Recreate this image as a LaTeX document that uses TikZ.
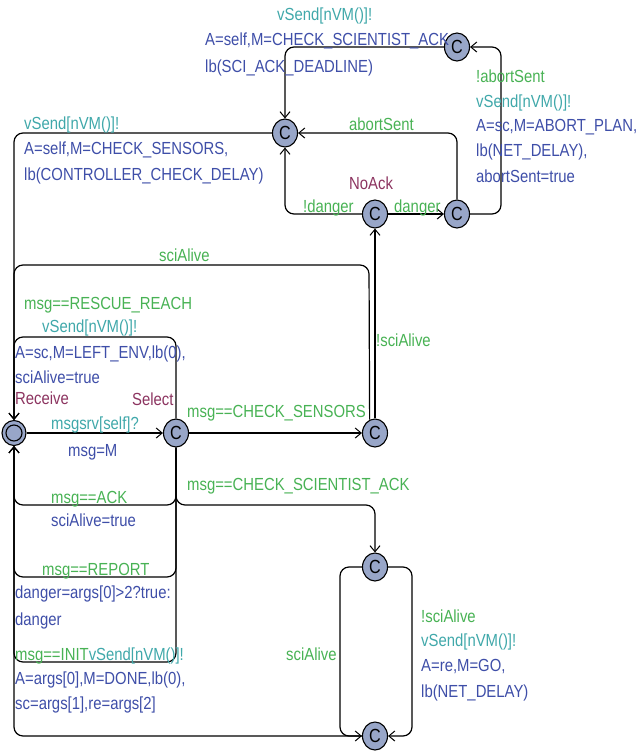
\documentclass[tikz,border=0pt]{standalone}
\usepackage{fontspec}
\newfontfamily\lbfont{Liberation Sans}[FakeStretch=0.85]
\usetikzlibrary{arrows.meta,shapes.geometric}
\definecolor{gG}{RGB}{72,178,84}
\definecolor{gT}{RGB}{64,168,170}
\definecolor{gB}{RGB}{62,78,168}
\definecolor{gP}{RGB}{140,52,96}
\definecolor{nf}{RGB}{152,166,200}
\begin{document}
\begin{tikzpicture}[x=1pt,y=-1pt,
 loc/.style={ellipse,draw,line width=1.1pt,fill=nf,minimum width=25pt,minimum height=28pt,inner sep=0pt,font=\lbfont\fontsize{19}{19}\selectfont},
 edge/.style={line width=1.2pt,rounded corners=9pt,-{Straight Barb[length=6pt,width=10pt,line width=1pt]}},
 lbl/.style={anchor=base west,inner sep=0pt,font=\lbfont\fontsize{17.5}{20}\selectfont}]
\useasboundingbox (0,0) rectangle (637,753);
% locations
\node[loc,minimum width=24pt,minimum height=25pt] (rec) at (14,433) {};
\draw[line width=1.1pt] (rec.center) circle (8pt);
\node[loc] (sel) at (176,433) {C};
\node[loc] (cs) at (375,433) {C};
\node[loc] (noack) at (375,214) {C};
\node[loc] (dng) at (457,214) {C};
\node[loc] (abt) at (457,47) {C};
\node[loc] (hub) at (285,133) {C};
\node[loc] (sci) at (375,567) {C};
\node[loc] (bot) at (375,736) {C};
% edges
\draw[edge] (rec) -- (sel);
\draw[edge] (sel) -- (cs);
\draw[edge] (sel) -- (176,505) -- (375,505) -- (sci);
\draw[edge] (sel) -- (176,505) -- (14,505) -- (rec);
\draw[edge] (sel) -- (176,577) -- (14,577) -- (rec);
\draw[edge] (sel) -- (176,662) -- (14,662) -- (rec);
\draw[edge] (sel) -- (176,337) -- (14,337) -- (rec);
\draw[edge] (cs) -- (noack);
\draw[edge] (cs.112) -- (369,265) -- (14,265) -- (rec);
\draw[edge] (noack) -- (285,214) -- (hub);
\draw[edge] (noack) -- (dng);
\draw[edge] (dng) -- (457,133) -- (hub);
\draw[edge] (dng) -- (501,214) -- (501,47) -- (abt);
\draw[edge] (abt) -- (285,47) -- (hub);
\draw[edge] (hub) -- (14,133) -- (rec);
\draw[edge] (sci) -- (340,567) -- (340,736) -- (bot);
\draw[edge] (sci) -- (412,567) -- (412,736) -- (bot);
\draw[edge] (bot) -- (14,736) -- (rec);
% labels
\node[lbl,text=gT] (l1) at (277,20) {vSend[nVM()]!};
\node[lbl,text=gB] (l2) at (205,45) {A=self,M=CHECK\_SCIENTIST\_ACK};
\node[lbl,text=gB] (l3) at (205,72) {lb(SCI\_ACK\_DEADLINE)};
\node[lbl,text=gG] (l4) at (476,82) {!abortSent};
\node[lbl,text=gT] (l5) at (476,107) {vSend[nVM()]!};
\node[lbl,text=gB] (l6) at (476,131) {A=sc,M=ABORT\_PLAN,};
\node[lbl,text=gB] (l7) at (476,156) {lb(NET\_DELAY),};
\node[lbl,text=gB] (l8) at (476,182) {abortSent=true};
\node[lbl,text=gG] (l9) at (349,130) {abortSent};
\node[lbl,text=gP] (l10) at (349,189) {NoAck};
\node[lbl,text=gG] (l11) at (303,212) {!danger};
\node[lbl,text=gG] (l12) at (394,212) {danger};
\node[lbl,text=gT] (l13) at (24,129) {vSend[nVM()]!};
\node[lbl,text=gB] (l14) at (24,154) {A=self,M=CHECK\_SENSORS,};
\node[lbl,text=gB] (l15) at (24,180) {lb(CONTROLLER\_CHECK\_DELAY)};
\node[lbl,text=gG] (l16) at (159,261) {sciAlive};
\node[lbl,text=gG] (l17) at (24,309) {msg==RESCUE\_REACH};
\node[lbl,text=gT] (l18) at (42,332) {vSend[nVM()]!};
\node[lbl,text=gB] (l19) at (15,358) {A=sc,M=LEFT\_ENV,lb(0),};
\node[lbl,text=gB] (l20) at (15,383) {sciAlive=true};
\node[lbl,text=gP] (l21) at (15,404) {Receive};
\node[lbl,text=gP] (l22) at (132,405) {Select};
\node[lbl,text=gT] (l23) at (51,429) {msgsrv[self]?};
\node[lbl,text=gB] (l24) at (68,456) {msg=M};
\node[lbl,text=gG] (l25) at (187,417) {msg==CHECK\_SENSORS};
\node[lbl,text=gG] (l26) at (376,346) {!sciAlive};
\node[lbl,text=gG] (l27) at (187,490) {msg==CHECK\_SCIENTIST\_ACK};
\node[lbl,text=gG] (l28) at (51,503) {msg==ACK};
\node[lbl,text=gB] (l29) at (51,526) {sciAlive=true};
\node[lbl,text=gG] (l30) at (42,575) {msg==REPORT};
\node[lbl,text=gB] (l31) at (15,598) {danger=args[0]>2?true:};
\node[lbl,text=gB] (l32) at (15,625) {danger};
\node[lbl] (l33) at (15,660) {\textcolor{gG}{msg==INIT}\textcolor{gT}{vSend[nVM()]!}};
\node[lbl,text=gB] (l34) at (15,684) {A=args[0],M=DONE,lb(0),};
\node[lbl,text=gB] (l35) at (15,709) {sc=args[1],re=args[2]};
\node[lbl,text=gG] (l36) at (286,660) {sciAlive};
\node[lbl,text=gG] (l37) at (421,622) {!sciAlive};
\node[lbl,text=gT] (l38) at (421,646) {vSend[nVM()]!};
\node[lbl,text=gB] (l39) at (421,671) {A=re,M=GO,};
\node[lbl,text=gB] (l40) at (421,697) {lb(NET\_DELAY)};
\end{tikzpicture}
\end{document}
